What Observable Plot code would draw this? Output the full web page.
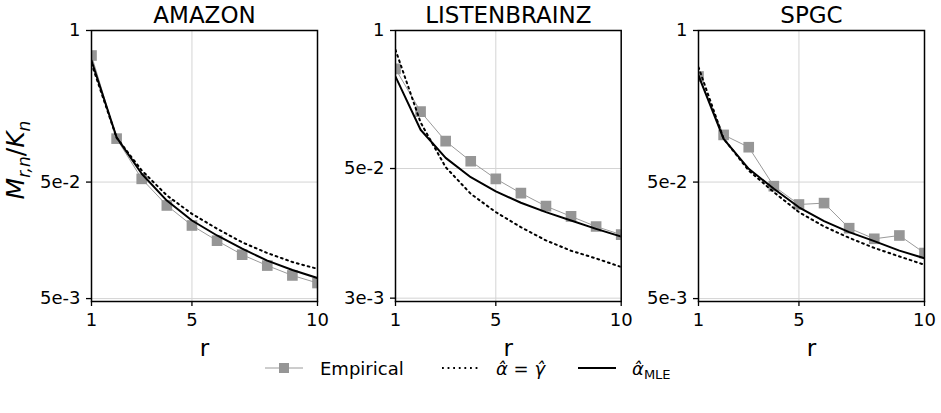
<!DOCTYPE html>
<html><head><meta charset="utf-8">
<script src="https://cdn.jsdelivr.net/npm/d3@7"></script>
<script src="https://cdn.jsdelivr.net/npm/@observablehq/plot@0.6"></script>
<style>
body{margin:0;background:#fff;font-family:"DejaVu Sans",sans-serif;}
#root{position:relative;width:941px;height:413px;overflow:hidden;background:#fff;}
.panel{position:absolute;top:0;}
.ylab{position:absolute;left:17px;top:160px;transform:translate(-50%,-50%) rotate(-90deg);font-size:25px;white-space:nowrap;color:#000;}
.ylab sub{font-size:17px;vertical-align:-6px;}
.lg{position:absolute;top:369px;transform:translateY(-50%);font-size:18px;white-space:nowrap;color:#000;line-height:1;}
.lg sub{font-size:13px;vertical-align:-4px;font-style:normal;line-height:0;}
.sym{position:absolute;top:358px;}
</style></head><body><div id="root"></div>
<script>
// ---- data ----
const r = [1, 2, 3, 4, 5, 6, 7, 8, 9, 10];
const xTicks = [1, 5, 10];

const titles = ["AMAZON", "LISTENBRAINZ", "SPGC"];

const amazonEmp    = [0.61, 0.118, 0.0533, 0.0315, 0.0212, 0.0157, 0.0119, 0.0096, 0.0079, 0.0068];
const amazonDotted = [0.52, 0.12, 0.063, 0.0384, 0.0267, 0.0199, 0.0152, 0.0123, 0.0103, 0.0090];
const amazonMle    = [0.553, 0.121, 0.0589, 0.0347, 0.0234, 0.0174, 0.0134, 0.0106, 0.0088, 0.0075];

const listenEmp    = [0.435, 0.172, 0.0905, 0.0586, 0.040, 0.0293, 0.0221, 0.0177, 0.0142, 0.0119];
const listenDotted = [0.658, 0.136, 0.0515, 0.0289, 0.0194, 0.0140, 0.0105, 0.0084, 0.0071, 0.0059];
const listenMle    = [0.368, 0.116, 0.063, 0.0414, 0.0304, 0.0238, 0.0194, 0.0162, 0.0135, 0.0114];

const spgcEmp    = [0.403, 0.127, 0.0996, 0.0461, 0.0321, 0.033, 0.0201, 0.0163, 0.0174, 0.0123];
const spgcDotted = [0.484, 0.118, 0.0628, 0.041, 0.0276, 0.0208, 0.0166, 0.0136, 0.0115, 0.00975];
const spgcMle    = [0.411, 0.1175, 0.065, 0.0438, 0.0304, 0.0231, 0.0186, 0.01555, 0.0129, 0.0111];

const yTicksA = [1, 0.05, 0.005];
const yLabelsA = ["1", "5e-2", "5e-3"];
const yTicksB = [1, 0.05, 0.003];
const yLabelsB = ["1", "5e-2", "3e-3"];

const legendLabels = ["Empirical", "<i>α̂</i> = <i>γ̂</i>", "<i>α̂</i><sub>MLE</sub>"];

// ---- drawing ----
const root = document.getElementById("root");
const tbl = vals => r.map((x, i) => ({r: x, v: vals[i]}));

function panel(cfg) {
  const tickTbl = cfg.yTicks.map((t, i) => ({t, label: cfg.yLabels[i]}));
  const svg = Plot.plot({
    width: cfg.width, height: 340,
    marginLeft: cfg.ml, marginRight: cfg.mr, marginTop: 30, marginBottom: 39,
    style: {fontFamily: "DejaVu Sans", fontSize: "18px", color: "black", background: "transparent", overflow: "visible"},
    x: {type: "linear", domain: [1, 10]},
    y: {type: "log", domain: [cfg.ymin, 1]},
    marks: [
      Plot.ruleX(xTicks.filter(d => d > 1 && d < 10), {stroke: "#d4d4d4", strokeWidth: 1}),
      Plot.ruleY(cfg.yTicks, {stroke: "#d4d4d4", strokeWidth: 1}),
      Plot.line(tbl(cfg.emp), {x: "r", y: "v", stroke: "#9a9a9a", strokeWidth: 1, clip: "frame"}),
      Plot.dot(tbl(cfg.emp), {x: "r", y: "v", symbol: "square", r: 6, fill: "#969696", stroke: null, clip: "frame"}),
      Plot.line(tbl(cfg.dotted), {x: "r", y: "v", stroke: "black", strokeWidth: 2, strokeDasharray: "1.8,3.8", clip: "frame"}),
      Plot.line(tbl(cfg.mle), {x: "r", y: "v", stroke: "black", strokeWidth: 2, clip: "frame"}),
      Plot.axisX({ticks: xTicks, tickSize: 5, tickPadding: 7, tickFormat: d => String(d), label: null, strokeWidth: 1.3}),
      Plot.axisY({ticks: cfg.yTicks, tickSize: 5, tickFormat: () => "", label: null, strokeWidth: 1.3}),
      Plot.text(tickTbl, {y: "t", text: "label", frameAnchor: "left", textAnchor: "end", dx: -11, fontSize: 18}),
      Plot.frame({stroke: "black", strokeWidth: 1.5}),
      Plot.text([cfg.title], {text: d => d, frameAnchor: "top", lineAnchor: "middle", dy: -15, fontSize: 23}),
      Plot.text(["r"], {text: d => d, frameAnchor: "bottom", lineAnchor: "middle", dy: 47, fontSize: 23})
    ]
  });
  svg.classList.add("panel");
  svg.style.left = cfg.left + "px";
  root.appendChild(svg);
}

panel({title: titles[0], left: 0, width: 330, ml: 91, mr: 13, ymin: 0.00472,
  yTicks: yTicksA, yLabels: yLabelsA, emp: amazonEmp, dotted: amazonDotted, mle: amazonMle});
panel({title: titles[1], left: 330, width: 300, ml: 65, mr: 9.3, ymin: 0.00279,
  yTicks: yTicksB, yLabels: yLabelsB, emp: listenEmp, dotted: listenDotted, mle: listenMle});
panel({title: titles[2], left: 630, width: 311, ml: 68, mr: 17, ymin: 0.00472,
  yTicks: yTicksA, yLabels: yLabelsA, emp: spgcEmp, dotted: spgcDotted, mle: spgcMle});

// y axis label
const yl = document.createElement("div");
yl.className = "ylab";
yl.innerHTML = "<i>M</i><sub><i>r,n</i></sub>/<i>K</i><sub><i>n</i></sub>";
root.appendChild(yl);

// legend
const ns = "http://www.w3.org/2000/svg";
function sym(x, kind) {
  const s = document.createElementNS(ns, "svg");
  s.setAttribute("width", 40); s.setAttribute("height", 20);
  s.setAttribute("class", "sym");
  s.style.left = x + "px";
  const l = document.createElementNS(ns, "line");
  l.setAttribute("x1", 1); l.setAttribute("x2", 39); l.setAttribute("y1", 10); l.setAttribute("y2", 10);
  if (kind === "emp") {
    l.setAttribute("stroke", "#9a9a9a"); l.setAttribute("stroke-width", 1);
    s.appendChild(l);
    const q = document.createElementNS(ns, "rect");
    q.setAttribute("x", 15); q.setAttribute("y", 5); q.setAttribute("width", 10); q.setAttribute("height", 10);
    q.setAttribute("fill", "#969696");
    s.appendChild(q);
  } else {
    l.setAttribute("stroke", "black"); l.setAttribute("stroke-width", 2);
    if (kind === "dot") l.setAttribute("stroke-dasharray", "1.8,3.8");
    s.appendChild(l);
  }
  root.appendChild(s);
}
function lab(x, html) {
  const d = document.createElement("div");
  d.className = "lg"; d.style.left = x + "px"; d.innerHTML = html;
  root.appendChild(d);
}
sym(264, "emp"); lab(320, legendLabels[0]);
sym(441, "dot"); lab(496, legendLabels[1]);
sym(577, "solid"); lab(632, legendLabels[2]);
</script>
</body></html>
